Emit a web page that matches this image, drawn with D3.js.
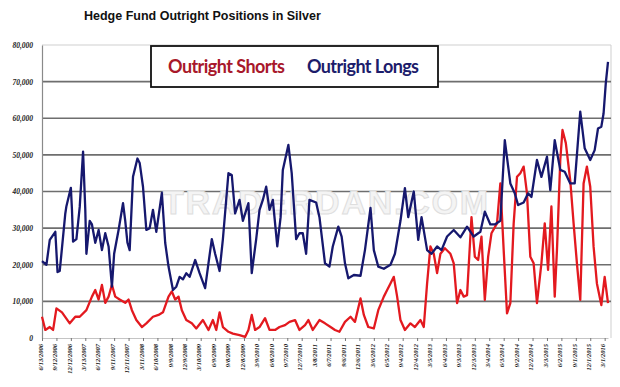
<!DOCTYPE html>
<html lang="en">
<head>
    <meta charset="UTF-8">
    <title>Hedge Fund Outright Positions in Silver</title>
    <style>
        body, html {
            margin: 0;
            padding: 0;
            background: #fff;
            overflow: hidden;
        }
        svg { display: block; }
    </style>
</head>
<body>
    <script src="https://d3js.org/d3.v7.min.js"></script>
    <script>
        // weekly COT data, week 0 = 6/13/2006
        var startDate = "6/13/2006";
        var endDate = "3/22/2016";

        var yTicks = [0, 10000, 20000, 30000, 40000, 50000, 60000, 70000, 80000];

        var xTickLabels = [
            "6/13/2006", "9/12/2006", "12/12/2006", "3/13/2007", "6/12/2007", "9/11/2007", "12/11/2007",
            "3/11/2008", "6/10/2008", "9/9/2008", "12/9/2008", "3/10/2009", "6/9/2009", "9/8/2009",
            "12/8/2009", "3/9/2010", "6/8/2010", "9/7/2010", "12/7/2010", "3/8/2011", "6/7/2011",
            "9/6/2011", "12/6/2011", "3/6/2012", "6/5/2012", "9/4/2012", "12/4/2012", "3/5/2013",
            "6/4/2013", "9/3/2013", "12/3/2013", "3/4/2014", "6/3/2014", "9/2/2014", "12/2/2014",
            "3/3/2015", "6/2/2015", "9/1/2015", "12/1/2015", "3/1/2016"
        ];

        // [week, contracts]
        var longs = [
            [0, 21000], [4, 20000], [7, 26800], [12, 29000], [14, 18000], [16, 18300], [21, 34000],
            [22, 36000], [26, 41000], [27, 35000], [28, 26300], [31, 27000], [34, 35800], [37, 50900],
            [39, 35000], [40, 23000], [43, 32000], [45, 31000], [48, 26000], [51, 29500], [54, 24000],
            [57, 28600], [60, 25000], [63, 14000], [65, 23000], [69, 29500], [73, 36800], [75, 32000],
            [77, 26000], [79, 24000], [82, 44000], [86, 49000], [88, 47800], [91, 41300], [94, 29500],
            [97, 30000], [100, 35000], [103, 29000], [108, 39600], [111, 26000], [114, 19500],
            [118, 13100], [121, 14000], [124, 16700], [127, 16000], [130, 17700], [133, 16700],
            [138, 21300], [142, 17700], [147, 13600], [150, 20400], [153, 27000], [156, 23000],
            [160, 18300], [163, 27000], [168, 45000], [171, 44500], [174, 34000], [178, 37700],
            [181, 32000], [186, 36800], [189, 17700], [193, 27000], [196, 35000], [199, 37700],
            [202, 41300], [205, 35000], [208, 37700], [212, 25000], [215, 33000], [217, 45900],
            [222, 52700], [225, 45000], [229, 27000], [232, 28600], [235, 28600], [238, 23000],
            [241, 37700], [247, 37000], [250, 33000], [255, 20400], [259, 19500], [262, 25000],
            [267, 30400], [270, 27700], [273, 20400], [276, 16300], [281, 17200], [287, 17000],
            [291, 24000], [296, 35500], [299, 24000], [303, 19500], [308, 18900], [314, 20000],
            [318, 23000], [323, 32000], [327, 40900], [330, 33000], [335, 40000], [339, 26800],
            [342, 33000], [347, 24000], [351, 23000], [356, 25000], [360, 24000], [365, 27700],
            [371, 29500], [377, 27500], [383, 30400], [389, 27700], [395, 29000], [399, 34500],
            [404, 31000], [408, 31000], [413, 32000], [417, 54000], [422, 42200], [426, 39500],
            [429, 36300], [434, 37000], [438, 39500], [441, 38500], [446, 48600], [450, 44000],
            [455, 49500], [458, 40400], [462, 54000], [467, 45900], [471, 45400], [476, 42200],
            [480, 42200], [485, 61800], [489, 51800], [494, 48600], [498, 51300], [501, 57200],
            [504, 57700], [506, 61300], [508, 69500], [510, 75400]
        ];

        var shorts = [
            [0, 5800], [3, 2200], [7, 3000], [10, 2200], [13, 8100], [18, 7000], [25, 4000],
            [30, 5800], [34, 5800], [40, 7600], [45, 11300], [48, 13100], [51, 10500], [54, 14500],
            [57, 9600], [60, 11300], [63, 14500], [66, 11300], [70, 10500], [75, 9600], [78, 10500],
            [81, 7600], [85, 4900], [90, 3000], [94, 4000], [100, 5800], [105, 6300], [109, 7000],
            [114, 11300], [117, 12700], [120, 10500], [123, 11300], [126, 7600], [130, 4900],
            [135, 4000], [139, 2600], [145, 4900], [150, 2200], [154, 4900], [157, 2200], [160, 7000],
            [163, 3000], [168, 1700], [172, 1200], [178, 800], [183, 300], [186, 2200], [189, 6300],
            [192, 2200], [196, 3000], [201, 5400], [205, 2200], [210, 2200], [214, 3000], [219, 3500],
            [223, 4400], [228, 4900], [232, 2200], [237, 3500], [240, 4900], [244, 2200], [250, 4900],
            [255, 4000], [260, 3000], [264, 2200], [268, 1700], [273, 4400], [278, 5800], [282, 4400],
            [287, 10800], [290, 6300], [294, 3000], [299, 2600], [303, 7600], [308, 11300],
            [311, 13100], [314, 14900], [317, 16700], [320, 11300], [323, 4900], [327, 2200],
            [332, 4000], [336, 3000], [341, 4900], [344, 3000], [347, 14900], [350, 25000],
            [353, 23000], [356, 17700], [359, 23000], [363, 24500], [368, 23000], [371, 20400],
            [374, 9500], [377, 13100], [380, 11300], [383, 11700], [386, 27700], [387, 33000],
            [390, 22200], [393, 21300], [396, 27700], [399, 10400], [402, 22200], [405, 28600],
            [410, 31300], [413, 42200], [416, 24000], [419, 6700], [422, 9500], [425, 31300],
            [428, 44000], [431, 45000], [434, 46800], [437, 39500], [440, 22200], [443, 20400],
            [446, 9500], [450, 20400], [453, 31300], [456, 18600], [459, 35900], [462, 11300],
            [464, 24000], [467, 48600], [469, 56800], [472, 53200], [476, 43000], [479, 31300],
            [482, 20400], [485, 10400], [488, 42200], [491, 46800], [494, 41300], [497, 25000],
            [500, 14900], [504, 9000], [507, 16700], [510, 9500]
        ];

        var width = 620, height = 387;
        var plotLeft = 42, plotRight = 608, plotTop = 45, plotBottom = 338;

        var parse = d3.timeParse("%m/%d/%Y");
        var fmt = d3.timeFormat("%-m/%-d/%Y");
        var t0 = parse(startDate);

        function weekDate(w) { return d3.timeDay.offset(t0, w * 7); }

        var x = d3.scaleTime()
            .domain([t0, parse(endDate)])
            .range([plotLeft, plotRight]);

        var y = d3.scaleLinear()
            .domain([0, 80000])
            .range([plotBottom, plotTop]);

        var svg = d3.select("body")
            .append("svg")
            .attr("width", width)
            .attr("height", height);

        // title
        svg.append("text")
            .attr("x", 84)
            .attr("y", 20)
            .attr("font-family", "Liberation Sans, Arial, sans-serif")
            .attr("font-weight", "bold")
            .attr("font-size", 12.5)
            .attr("fill", "#111")
            .text("Hedge Fund Outright Positions in Silver");

        // plot frame (light)
        svg.append("path")
            .attr("d", "M" + plotLeft + "," + plotTop + "H" + (plotRight + 3) + "V" + plotBottom)
            .attr("fill", "none")
            .attr("stroke", "#cfcfcf")
            .attr("stroke-width", 1);

        // gridlines
        svg.append("g")
            .selectAll("line")
            .data(yTicks.filter(function(d) { return d > 0 && d < 80000; }))
            .enter()
            .append("line")
            .attr("x1", plotLeft)
            .attr("x2", plotRight + 3)
            .attr("y1", function(d) { return y(d); })
            .attr("y2", function(d) { return y(d); })
            .attr("stroke", "#6e6e6e")
            .attr("stroke-width", 1.6);

        // watermark
        svg.append("text")
            .attr("x", 163)
            .attr("y", 214)
            .attr("font-family", "Liberation Sans, Arial, sans-serif")
            .attr("font-weight", "bold")
            .attr("font-size", 34)
            .attr("textLength", 325)
            .attr("fill", "#f4f4f4")
            .attr("stroke", "#dedede")
            .attr("stroke-width", 1)
            .text("TRADERDAN.COM");

        // y axis
        var yAxis = svg.append("g")
            .attr("transform", "translate(" + plotLeft + ",0)")
            .call(d3.axisLeft(y).tickValues(yTicks).tickFormat(d3.format(",")).tickSize(0).tickPadding(9));
        yAxis.select(".domain").attr("stroke", "#8a8a8a").attr("stroke-width", 1.2);
        yAxis.selectAll("text")
            .attr("font-family", "Liberation Serif, serif")
            .attr("font-weight", "bold")
            .attr("font-style", "italic")
            .attr("font-size", 7.5)
            .attr("fill", "#222");

        // x axis
        var xAxis = svg.append("g")
            .attr("transform", "translate(0," + plotBottom + ")")
            .call(d3.axisBottom(x)
                .tickValues(xTickLabels.map(parse))
                .tickFormat(fmt)
                .tickSize(3)
                .tickSizeOuter(0));
        xAxis.select(".domain").attr("stroke", "#c4c4c4");
        xAxis.selectAll(".tick line").attr("stroke", "#777");
        xAxis.selectAll("text")
            .attr("transform", "rotate(-90)")
            .attr("text-anchor", "end")
            .attr("x", -6)
            .attr("y", -2)
            .attr("dy", "0.35em")
            .attr("font-family", "Liberation Serif, serif")
            .attr("font-weight", "bold")
            .attr("font-style", "italic")
            .attr("font-size", 6.5)
            .attr("fill", "#222");

        var line = d3.line()
            .x(function(d) { return x(weekDate(d[0])); })
            .y(function(d) { return y(d[1]); });

        svg.append("path")
            .datum(shorts)
            .attr("d", line)
            .attr("fill", "none")
            .attr("stroke", "#e3191f")
            .attr("stroke-width", 2.3)
            .attr("stroke-linejoin", "round");

        svg.append("path")
            .datum(longs)
            .attr("d", line)
            .attr("fill", "none")
            .attr("stroke", "#16186e")
            .attr("stroke-width", 2.3)
            .attr("stroke-linejoin", "round");

        // legend
        svg.append("rect")
            .attr("x", 151)
            .attr("y", 46)
            .attr("width", 287)
            .attr("height", 41)
            .attr("fill", "#fff")
            .attr("stroke", "#111")
            .attr("stroke-width", 1.8);

        svg.append("text")
            .attr("x", 168)
            .attr("y", 73)
            .attr("font-family", "Lato, sans-serif")
            .attr("font-weight", "bold")
            .attr("font-size", 18)
            .attr("textLength", 117)
            .attr("fill", "#a8182b")
            .text("Outright Shorts");

        svg.append("text")
            .attr("x", 307)
            .attr("y", 73)
            .attr("font-family", "Lato, sans-serif")
            .attr("font-weight", "bold")
            .attr("font-size", 18)
            .attr("textLength", 112)
            .attr("fill", "#1c1c6b")
            .text("Outright Longs");
    </script>
</body>
</html>
